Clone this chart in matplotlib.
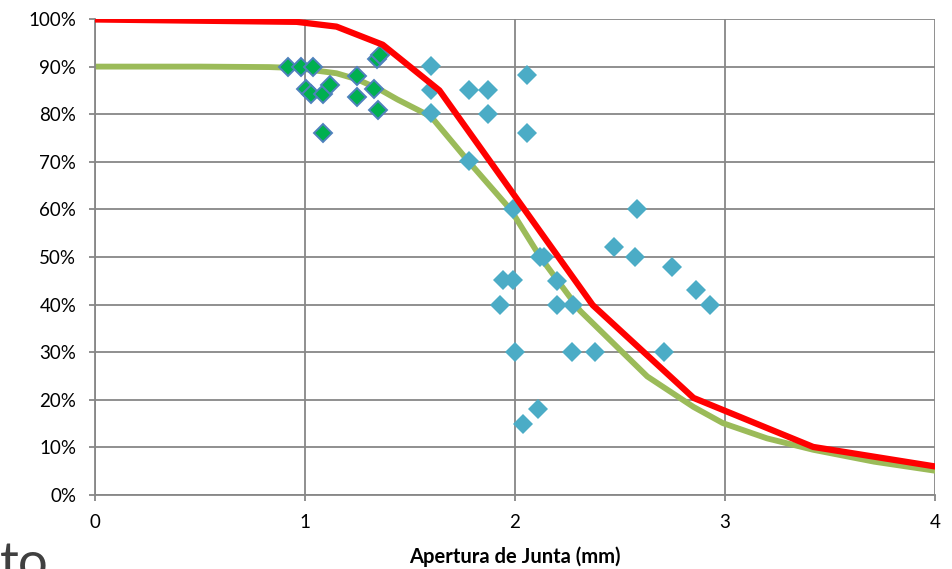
import matplotlib
matplotlib.use("Agg")
import matplotlib.pyplot as plt
from matplotlib.ticker import FuncFormatter

# curva roja (polilinea)
red_x = [0, 0.96, 1.15, 1.37, 1.64, 2.37, 2.85, 3.42, 4.0]
red_y = [99.9, 99.4, 98.4, 94.6, 85.0, 39.9, 20.4, 10.1, 6.0]

# curva verde
green_x = [0, 0.5, 0.83, 0.96, 1.15, 1.25, 1.36, 1.44, 1.6, 1.78, 1.98, 2.12,
           2.31, 2.5, 2.63, 2.85, 2.99, 3.2, 3.42, 3.71, 4.0]
green_y = [90, 90, 89.9, 89.7, 88.6, 87.3, 85.1, 83.1, 79.5, 70, 59.9, 50,
           38.7, 30.5, 24.9, 18.5, 15.1, 11.9, 9.5, 7.0, 5.1]

# puntos verdes (borde azul)
pts1_x = [0.92, 0.98, 1.04, 1.005, 1.027, 1.087, 1.119, 1.084, 1.25, 1.25,
          1.33, 1.35, 1.345, 1.355]
pts1_y = [90, 90, 90, 85.2, 84.3, 84.3, 86.1, 76, 88, 83.7,
          85.2, 80.9, 91.6, 92.4]

# puntos celestes
pts2_x = [1.60, 1.60, 1.60, 1.78, 1.87, 1.87, 1.78, 2.056, 2.056, 1.99,
          2.12, 2.14, 1.945, 1.99, 2.20, 1.93, 2.20, 2.275, 2.0, 2.27,
          2.38, 2.71, 2.04, 2.11, 2.58, 2.47, 2.57, 2.75, 2.86, 2.93]
pts2_y = [90.1, 85, 80.2, 85, 85, 80, 70.2, 88.2, 76.1, 60,
          50, 50, 45.2, 45.2, 45, 40, 40, 40, 30, 30,
          30, 30, 15, 18, 60, 52.2, 50, 48, 43, 40]

xticks = [0, 1, 2, 3, 4]
yticks = [0, 10, 20, 30, 40, 50, 60, 70, 80, 90, 100]

plt.rcParams['font.family'] = ['Lato', 'DejaVu Sans']

fig = plt.figure(figsize=(9.53, 5.69), dpi=100)
ax = fig.add_axes([95 / 953, 74 / 569, 840 / 953, 476 / 569])

gris = '#878787'

ax.plot(green_x, green_y, color='#9BBB59', lw=4.2, zorder=2)
ax.plot(pts2_x, pts2_y, 'D', ms=10.3, color='#4BACC6', mec='#4BACC6', mew=0, zorder=3)
ax.plot(pts1_x, pts1_y, 'D', ms=9.0, color='#00B050', mec='#4F81BD', mew=1.4, zorder=4)
ax.plot(red_x, red_y, color='#FF0000', lw=4.5, zorder=5)

ax.set_xlim(0, 4)
ax.set_ylim(0, 100)
ax.set_xticks(xticks)
ax.set_yticks(yticks)
ax.yaxis.set_major_formatter(FuncFormatter(lambda v, p: '%d%%' % v))

ax.grid(True, color=gris, lw=1.3)
ax.set_axisbelow(True)
for s in ['top', 'right']:
    ax.spines[s].set_visible(False)
for s in ['left', 'bottom']:
    ax.spines[s].set_color(gris)
    ax.spines[s].set_linewidth(1.3)
ax.tick_params(direction='out', length=4.5, width=1.3, color=gris,
               labelsize=13.5, pad=9, labelcolor='#000000')

ax.set_xlabel('Apertura de Junta (mm)', fontsize=14.5, fontweight='bold', labelpad=11)

fig.text(0.0, -0.018, 'to', fontsize=38, color='#404040', ha='left', va='baseline')

fig.savefig('out.png', dpi=100)
